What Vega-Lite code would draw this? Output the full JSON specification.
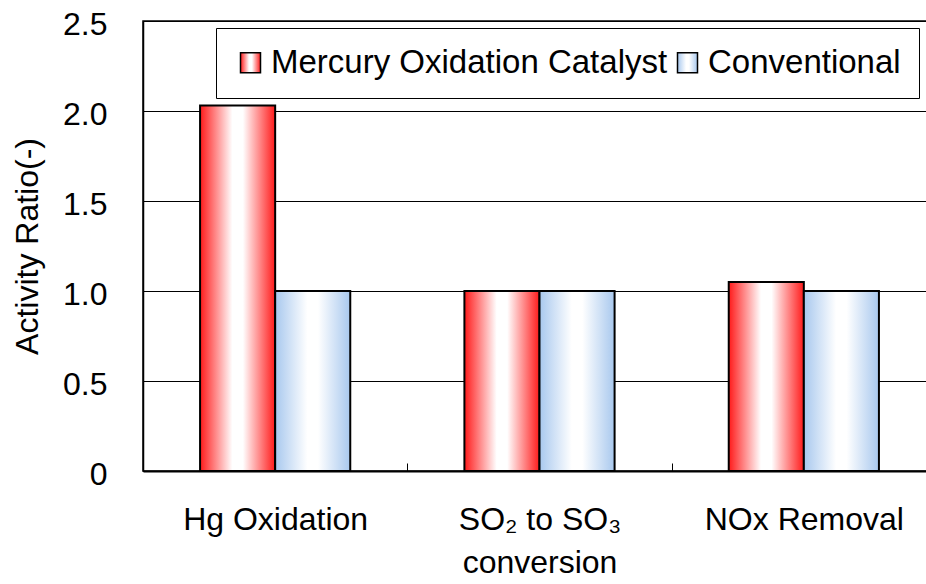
{
  "$schema": "https://vega.github.io/schema/vega-lite/v6.json",
  "width": 793,
  "height": 450,
  "autosize": {"type": "none"},
  "padding": {"left": 143, "top": 21, "right": 0, "bottom": 113},
  "background": "white",
  "config": {
    "font": "Liberation Sans",
    "view": {"stroke": "#000000", "strokeWidth": 1.5}
  },
  "data": {
    "values": [
      {"category": "Hg Oxidation", "series": "Mercury Oxidation Catalyst", "value": 2.03},
      {"category": "Hg Oxidation", "series": "Conventional", "value": 1.0},
      {"category": "SO₂ to SO₃ conversion", "series": "Mercury Oxidation Catalyst", "value": 1.0},
      {"category": "SO₂ to SO₃ conversion", "series": "Conventional", "value": 1.0},
      {"category": "NOx Removal", "series": "Mercury Oxidation Catalyst", "value": 1.05},
      {"category": "NOx Removal", "series": "Conventional", "value": 1.0}
    ]
  },
  "mark": {"type": "bar", "stroke": "#000000", "strokeWidth": 2},
  "encoding": {
    "x": {
      "field": "category",
      "type": "nominal",
      "sort": null,
      "scale": {"paddingInner": 0, "paddingOuter": 0},
      "axis": {
        "title": null,
        "labelAngle": 0,
        "labelFontSize": 32,
        "labelColor": "#000000",
        "labelPadding": 41,
        "labelLineHeight": 43,
        "labelBaseline": "top",
        "labelLimit": 400,
        "labelExpr": "datum.label == 'SO₂ to SO₃ conversion' ? ['SO₂ to SO₃', 'conversion'] : datum.label",
        "tickBand": "extent",
        "tickSize": -8,
        "tickColor": "#000000",
        "tickWidth": 1,
        "domainColor": "#000000",
        "domainWidth": 2,
        "grid": false
      }
    },
    "xOffset": {
      "field": "series",
      "type": "nominal",
      "sort": ["Mercury Oxidation Catalyst", "Conventional"],
      "scale": {"paddingInner": 0, "paddingOuter": 0.76}
    },
    "y": {
      "field": "value",
      "type": "quantitative",
      "scale": {"domain": [0, 2.5], "nice": false},
      "axis": {
        "title": "Activity Ratio(-)",
        "titleFontSize": 32,
        "titleFontWeight": "normal",
        "titleColor": "#000000",
        "titlePadding": 18,
        "values": [0, 0.5, 1, 1.5, 2, 2.5],
        "labelExpr": "datum.value == 0 ? '0' : format(datum.value, '.1f')",
        "labelFontSize": 32,
        "labelColor": "#000000",
        "labelPadding": 36,
        "labelOffset": 3,
        "ticks": false,
        "domainColor": "#000000",
        "domainWidth": 1.5,
        "grid": true,
        "gridColor": "#000000",
        "gridWidth": 1,
        "gridOpacity": 1
      }
    },
    "color": {
      "field": "series",
      "type": "nominal",
      "sort": ["Mercury Oxidation Catalyst", "Conventional"],
      "scale": {
        "domain": ["Mercury Oxidation Catalyst", "Conventional"],
        "range": [
          {"expr": "{gradient: 'linear', x1: 0, y1: 0, x2: 1, y2: 0, stops: [{offset: 0, color: '#ff1a1a'}, {offset: 0.43, color: '#ffffff'}, {offset: 0.57, color: '#ffffff'}, {offset: 1, color: '#ff1a1a'}]}"},
          {"expr": "{gradient: 'linear', x1: 0, y1: 0, x2: 1, y2: 0, stops: [{offset: 0, color: '#a8c8ee'}, {offset: 0.43, color: '#ffffff'}, {offset: 0.57, color: '#ffffff'}, {offset: 1, color: '#a8c8ee'}]}"}
        ]
      },
      "legend": {
        "title": null,
        "orient": "none",
        "legendX": 73,
        "legendY": 7,
        "direction": "horizontal",
        "strokeColor": "#000000",
        "fillColor": "#ffffff",
        "padding": 18,
        "symbolType": "square",
        "symbolSize": 400,
        "symbolStrokeColor": "#000000",
        "symbolStrokeWidth": 1.5,
        "symbolOpacity": 1,
        "labelFontSize": 33,
        "labelColor": "#000000",
        "labelOffset": 4,
        "labelLimit": 500,
        "columnPadding": 3
      }
    }
  }
}
